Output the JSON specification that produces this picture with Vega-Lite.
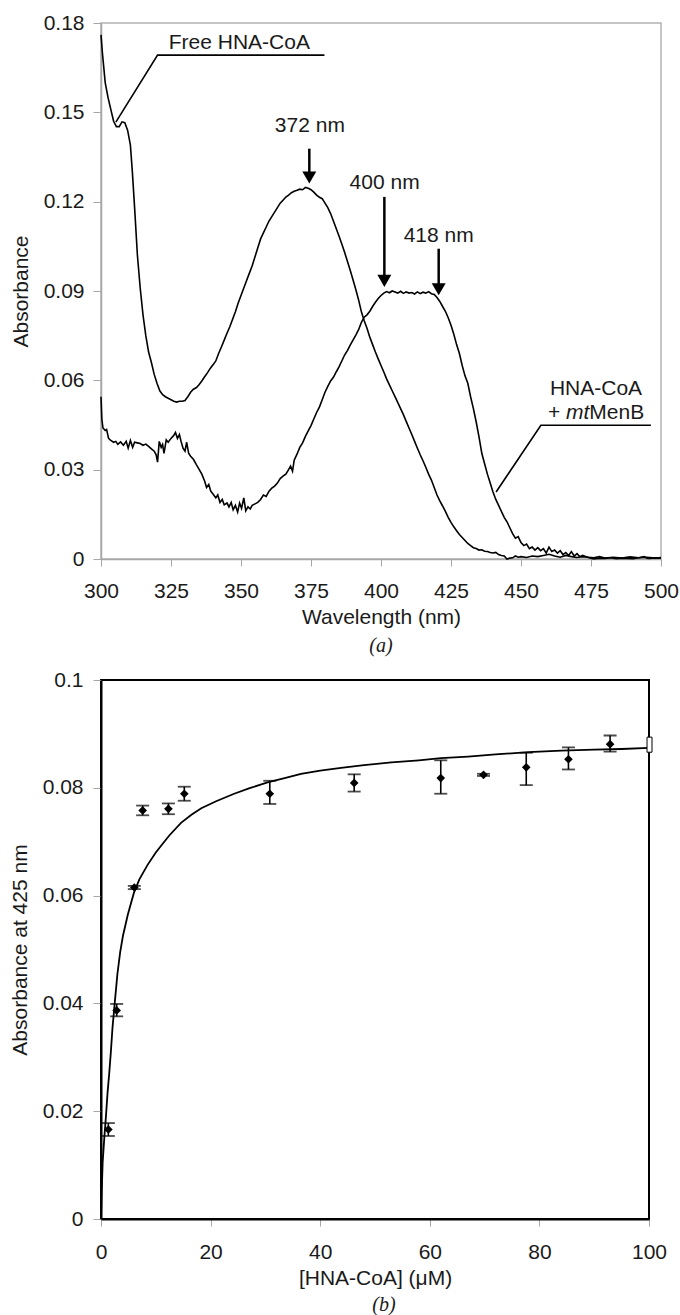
{
  "$schema": "https://vega.github.io/schema/vega-lite/v6.json",
  "background": "white",
  "padding": {"left": 8, "top": 11, "right": 0, "bottom": 0},
  "spacing": 121,
  "bounds": "flush",
  "config": {
    "font": "Liberation Sans",
    "axis": {"labelFont": "Liberation Sans", "titleFont": "Liberation Sans", "labelFontSize": 21, "titleFontSize": 21, "titleFontWeight": "normal", "labelColor": "#1a1a1a", "titleColor": "#1a1a1a", "grid": false, "labelFlush": false},
    "title": {"font": "Liberation Serif", "fontStyle": "italic", "fontSize": 20, "fontWeight": "normal", "color": "#1a1a1a"}
  },
  "datasets": {
    "spectra": [
      {"wl":300,"A":0.176,"s":"free"},{"wl":300.5,"A":0.170,"s":"free"},{"wl":301.5,"A":0.160,"s":"free"},{"wl":302.5,"A":0.155,"s":"free"},{"wl":303.5,"A":0.151,"s":"free"},{"wl":304.5,"A":0.147,"s":"free"},{"wl":305.5,"A":0.1452,"s":"free"},{"wl":306.5,"A":0.1452,"s":"free"},{"wl":307.5,"A":0.1468,"s":"free"},{"wl":308.5,"A":0.1465,"s":"free"},{"wl":309.5,"A":0.144,"s":"free"},{"wl":310.5,"A":0.139,"s":"free"},{"wl":311.2,"A":0.130,"s":"free"},{"wl":312,"A":0.118,"s":"free"},{"wl":313,"A":0.102,"s":"free"},{"wl":314,"A":0.091,"s":"free"},{"wl":315,"A":0.082,"s":"free"},{"wl":316,"A":0.075,"s":"free"},{"wl":317,"A":0.0695,"s":"free"},{"wl":318,"A":0.066,"s":"free"},{"wl":319,"A":0.062,"s":"free"},{"wl":320,"A":0.059,"s":"free"},{"wl":321,"A":0.0565,"s":"free"},{"wl":322,"A":0.0552,"s":"free"},{"wl":323,"A":0.0545,"s":"free"},{"wl":324,"A":0.054,"s":"free"},{"wl":325,"A":0.0535,"s":"free"},{"wl":326,"A":0.053,"s":"free"},{"wl":327,"A":0.0527,"s":"free"},{"wl":328,"A":0.053,"s":"free"},{"wl":329,"A":0.053,"s":"free"},{"wl":330,"A":0.0532,"s":"free"},{"wl":331,"A":0.0545,"s":"free"},{"wl":332,"A":0.056,"s":"free"},{"wl":333,"A":0.057,"s":"free"},{"wl":334,"A":0.0575,"s":"free"},{"wl":335,"A":0.0585,"s":"free"},{"wl":336,"A":0.0598,"s":"free"},{"wl":337,"A":0.0612,"s":"free"},{"wl":338,"A":0.0625,"s":"free"},{"wl":339,"A":0.064,"s":"free"},{"wl":340,"A":0.0652,"s":"free"},{"wl":341,"A":0.0665,"s":"free"},{"wl":342,"A":0.069,"s":"free"},{"wl":343,"A":0.0712,"s":"free"},{"wl":344,"A":0.0735,"s":"free"},{"wl":345,"A":0.0758,"s":"free"},{"wl":346,"A":0.078,"s":"free"},{"wl":347,"A":0.0805,"s":"free"},{"wl":348,"A":0.083,"s":"free"},{"wl":349,"A":0.086,"s":"free"},{"wl":350,"A":0.0885,"s":"free"},{"wl":351,"A":0.091,"s":"free"},{"wl":352,"A":0.0935,"s":"free"},{"wl":353,"A":0.096,"s":"free"},{"wl":354,"A":0.0985,"s":"free"},{"wl":355,"A":0.1015,"s":"free"},{"wl":356,"A":0.1045,"s":"free"},{"wl":357,"A":0.1075,"s":"free"},{"wl":358,"A":0.1095,"s":"free"},{"wl":359,"A":0.1115,"s":"free"},{"wl":360,"A":0.1135,"s":"free"},{"wl":361,"A":0.115,"s":"free"},{"wl":362,"A":0.1165,"s":"free"},{"wl":363,"A":0.118,"s":"free"},{"wl":364,"A":0.1195,"s":"free"},{"wl":365,"A":0.1205,"s":"free"},{"wl":366,"A":0.1215,"s":"free"},{"wl":367,"A":0.1222,"s":"free"},{"wl":368,"A":0.123,"s":"free"},{"wl":369,"A":0.1235,"s":"free"},{"wl":370,"A":0.1238,"s":"free"},{"wl":371,"A":0.1242,"s":"free"},{"wl":372,"A":0.124,"s":"free"},{"wl":373,"A":0.1248,"s":"free"},{"wl":374,"A":0.1245,"s":"free"},{"wl":375,"A":0.124,"s":"free"},{"wl":376,"A":0.1232,"s":"free"},{"wl":377,"A":0.1222,"s":"free"},{"wl":378,"A":0.1215,"s":"free"},{"wl":379,"A":0.121,"s":"free"},{"wl":380,"A":0.1195,"s":"free"},{"wl":381,"A":0.118,"s":"free"},{"wl":382,"A":0.116,"s":"free"},{"wl":383,"A":0.1135,"s":"free"},{"wl":384,"A":0.111,"s":"free"},{"wl":385,"A":0.1085,"s":"free"},{"wl":386,"A":0.1058,"s":"free"},{"wl":387,"A":0.103,"s":"free"},{"wl":388,"A":0.1,"s":"free"},{"wl":389,"A":0.097,"s":"free"},{"wl":390,"A":0.0938,"s":"free"},{"wl":391,"A":0.0905,"s":"free"},{"wl":392,"A":0.087,"s":"free"},{"wl":393,"A":0.083,"s":"free"},{"wl":394,"A":0.08,"s":"free"},{"wl":395,"A":0.0775,"s":"free"},{"wl":396,"A":0.0745,"s":"free"},{"wl":397,"A":0.072,"s":"free"},{"wl":398,"A":0.0695,"s":"free"},{"wl":399,"A":0.0672,"s":"free"},{"wl":400,"A":0.065,"s":"free"},{"wl":401,"A":0.0628,"s":"free"},{"wl":402,"A":0.0605,"s":"free"},{"wl":403,"A":0.0585,"s":"free"},{"wl":404,"A":0.0565,"s":"free"},{"wl":405,"A":0.0545,"s":"free"},{"wl":406,"A":0.0525,"s":"free"},{"wl":407,"A":0.0505,"s":"free"},{"wl":408,"A":0.0485,"s":"free"},{"wl":409,"A":0.0462,"s":"free"},{"wl":410,"A":0.044,"s":"free"},{"wl":411,"A":0.0418,"s":"free"},{"wl":412,"A":0.0395,"s":"free"},{"wl":413,"A":0.0372,"s":"free"},{"wl":414,"A":0.035,"s":"free"},{"wl":415,"A":0.033,"s":"free"},{"wl":416,"A":0.0308,"s":"free"},{"wl":417,"A":0.0285,"s":"free"},{"wl":418,"A":0.0265,"s":"free"},{"wl":419,"A":0.024,"s":"free"},{"wl":420,"A":0.0215,"s":"free"},{"wl":421,"A":0.0195,"s":"free"},{"wl":422,"A":0.0178,"s":"free"},{"wl":423,"A":0.016,"s":"free"},{"wl":424,"A":0.014,"s":"free"},{"wl":425,"A":0.0123,"s":"free"},{"wl":426,"A":0.0108,"s":"free"},{"wl":427,"A":0.0095,"s":"free"},{"wl":428,"A":0.0082,"s":"free"},{"wl":429,"A":0.0072,"s":"free"},{"wl":430,"A":0.0062,"s":"free"},{"wl":431,"A":0.0052,"s":"free"},{"wl":432,"A":0.0045,"s":"free"},{"wl":433,"A":0.0038,"s":"free"},{"wl":434,"A":0.0035,"s":"free"},{"wl":435,"A":0.003,"s":"free"},{"wl":436,"A":0.0031,"s":"free"},{"wl":437,"A":0.0026,"s":"free"},{"wl":438,"A":0.0025,"s":"free"},{"wl":439,"A":0.0022,"s":"free"},{"wl":440,"A":0.002,"s":"free"},{"wl":441,"A":0.0022,"s":"free"},{"wl":442,"A":0.0015,"s":"free"},{"wl":443,"A":0.0012,"s":"free"},{"wl":444,"A":0.001,"s":"free"},{"wl":445,"A":0.0,"s":"free"},{"wl":446,"A":0.0003,"s":"free"},{"wl":447,"A":0.0004,"s":"free"},{"wl":448,"A":0.001,"s":"free"},{"wl":449,"A":0.0006,"s":"free"},{"wl":450,"A":0.0008,"s":"free"},{"wl":452,"A":0.0005,"s":"free"},{"wl":454,"A":0.001,"s":"free"},{"wl":456,"A":0.0008,"s":"free"},{"wl":458,"A":0.0012,"s":"free"},{"wl":460,"A":0.0016,"s":"free"},{"wl":462,"A":0.001,"s":"free"},{"wl":464,"A":0.0006,"s":"free"},{"wl":466,"A":0.0012,"s":"free"},{"wl":468,"A":0.0008,"s":"free"},{"wl":470,"A":0.0005,"s":"free"},{"wl":472,"A":0.0008,"s":"free"},{"wl":474,"A":0.0006,"s":"free"},{"wl":476,"A":0.0004,"s":"free"},{"wl":478,"A":0.0008,"s":"free"},{"wl":480,"A":0.0003,"s":"free"},{"wl":483,"A":0.0006,"s":"free"},{"wl":486,"A":0.0003,"s":"free"},{"wl":489,"A":0.0007,"s":"free"},{"wl":492,"A":0.0004,"s":"free"},{"wl":495,"A":0.0006,"s":"free"},{"wl":498,"A":0.0003,"s":"free"},{"wl":500,"A":0.0005,"s":"free"},
      {"wl":300,"A":0.0545,"s":"bound"},{"wl":300.3,"A":0.047,"s":"bound"},{"wl":300.7,"A":0.044,"s":"bound"},{"wl":301.5,"A":0.0432,"s":"bound"},{"wl":302,"A":0.0435,"s":"bound"},{"wl":302.7,"A":0.0405,"s":"bound"},{"wl":303.5,"A":0.0398,"s":"bound"},{"wl":304.5,"A":0.0392,"s":"bound"},{"wl":305.3,"A":0.0395,"s":"bound"},{"wl":306,"A":0.0385,"s":"bound"},{"wl":307,"A":0.0393,"s":"bound"},{"wl":308,"A":0.0382,"s":"bound"},{"wl":309,"A":0.0395,"s":"bound"},{"wl":309.7,"A":0.0372,"s":"bound"},{"wl":310.5,"A":0.0398,"s":"bound"},{"wl":311.3,"A":0.0375,"s":"bound"},{"wl":312,"A":0.0392,"s":"bound"},{"wl":313,"A":0.039,"s":"bound"},{"wl":314,"A":0.0388,"s":"bound"},{"wl":315,"A":0.0382,"s":"bound"},{"wl":316,"A":0.0386,"s":"bound"},{"wl":317,"A":0.0378,"s":"bound"},{"wl":318,"A":0.037,"s":"bound"},{"wl":319,"A":0.0362,"s":"bound"},{"wl":319.7,"A":0.035,"s":"bound"},{"wl":320.2,"A":0.0325,"s":"bound"},{"wl":320.8,"A":0.0395,"s":"bound"},{"wl":321.5,"A":0.0375,"s":"bound"},{"wl":322,"A":0.0385,"s":"bound"},{"wl":322.5,"A":0.0355,"s":"bound"},{"wl":323.3,"A":0.04,"s":"bound"},{"wl":324,"A":0.0392,"s":"bound"},{"wl":325,"A":0.0405,"s":"bound"},{"wl":326,"A":0.0415,"s":"bound"},{"wl":326.6,"A":0.0425,"s":"bound"},{"wl":327.3,"A":0.0405,"s":"bound"},{"wl":328,"A":0.0418,"s":"bound"},{"wl":328.6,"A":0.0395,"s":"bound"},{"wl":329.3,"A":0.0372,"s":"bound"},{"wl":330,"A":0.0362,"s":"bound"},{"wl":330.6,"A":0.0392,"s":"bound"},{"wl":331.3,"A":0.0355,"s":"bound"},{"wl":332,"A":0.0345,"s":"bound"},{"wl":333,"A":0.0335,"s":"bound"},{"wl":334,"A":0.0318,"s":"bound"},{"wl":335,"A":0.0302,"s":"bound"},{"wl":336,"A":0.0285,"s":"bound"},{"wl":337,"A":0.0262,"s":"bound"},{"wl":337.7,"A":0.024,"s":"bound"},{"wl":338.5,"A":0.025,"s":"bound"},{"wl":339.2,"A":0.0228,"s":"bound"},{"wl":340,"A":0.0218,"s":"bound"},{"wl":341,"A":0.0205,"s":"bound"},{"wl":341.7,"A":0.0215,"s":"bound"},{"wl":342.5,"A":0.019,"s":"bound"},{"wl":343.3,"A":0.02,"s":"bound"},{"wl":344,"A":0.0182,"s":"bound"},{"wl":345,"A":0.0188,"s":"bound"},{"wl":345.7,"A":0.0175,"s":"bound"},{"wl":346.5,"A":0.019,"s":"bound"},{"wl":347.2,"A":0.0165,"s":"bound"},{"wl":348,"A":0.018,"s":"bound"},{"wl":348.8,"A":0.0158,"s":"bound"},{"wl":349.5,"A":0.0188,"s":"bound"},{"wl":350.2,"A":0.017,"s":"bound"},{"wl":351,"A":0.0205,"s":"bound"},{"wl":351.7,"A":0.0162,"s":"bound"},{"wl":352.5,"A":0.0175,"s":"bound"},{"wl":353.3,"A":0.0168,"s":"bound"},{"wl":354,"A":0.018,"s":"bound"},{"wl":355,"A":0.0185,"s":"bound"},{"wl":356,"A":0.019,"s":"bound"},{"wl":357,"A":0.02,"s":"bound"},{"wl":358,"A":0.0215,"s":"bound"},{"wl":359,"A":0.021,"s":"bound"},{"wl":360,"A":0.0228,"s":"bound"},{"wl":361,"A":0.0238,"s":"bound"},{"wl":362,"A":0.0245,"s":"bound"},{"wl":363,"A":0.0255,"s":"bound"},{"wl":364,"A":0.027,"s":"bound"},{"wl":365,"A":0.0278,"s":"bound"},{"wl":366,"A":0.0285,"s":"bound"},{"wl":367,"A":0.03,"s":"bound"},{"wl":367.7,"A":0.0312,"s":"bound"},{"wl":368.4,"A":0.0295,"s":"bound"},{"wl":369,"A":0.0332,"s":"bound"},{"wl":370,"A":0.0352,"s":"bound"},{"wl":371,"A":0.0375,"s":"bound"},{"wl":372,"A":0.039,"s":"bound"},{"wl":373,"A":0.0412,"s":"bound"},{"wl":374,"A":0.043,"s":"bound"},{"wl":375,"A":0.0448,"s":"bound"},{"wl":376,"A":0.047,"s":"bound"},{"wl":377,"A":0.0492,"s":"bound"},{"wl":378,"A":0.051,"s":"bound"},{"wl":379,"A":0.0535,"s":"bound"},{"wl":380,"A":0.056,"s":"bound"},{"wl":381,"A":0.058,"s":"bound"},{"wl":382,"A":0.0598,"s":"bound"},{"wl":383,"A":0.061,"s":"bound"},{"wl":384,"A":0.0628,"s":"bound"},{"wl":385,"A":0.0645,"s":"bound"},{"wl":386,"A":0.0665,"s":"bound"},{"wl":387,"A":0.0685,"s":"bound"},{"wl":388,"A":0.07,"s":"bound"},{"wl":389,"A":0.0718,"s":"bound"},{"wl":390,"A":0.0735,"s":"bound"},{"wl":391,"A":0.0752,"s":"bound"},{"wl":392,"A":0.077,"s":"bound"},{"wl":393,"A":0.0795,"s":"bound"},{"wl":394,"A":0.0812,"s":"bound"},{"wl":395,"A":0.082,"s":"bound"},{"wl":396,"A":0.0832,"s":"bound"},{"wl":397,"A":0.0848,"s":"bound"},{"wl":398,"A":0.0862,"s":"bound"},{"wl":399,"A":0.0875,"s":"bound"},{"wl":400,"A":0.0885,"s":"bound"},{"wl":401,"A":0.0893,"s":"bound"},{"wl":402,"A":0.0898,"s":"bound"},{"wl":403,"A":0.0894,"s":"bound"},{"wl":404,"A":0.09,"s":"bound"},{"wl":405,"A":0.0897,"s":"bound"},{"wl":406,"A":0.0893,"s":"bound"},{"wl":407,"A":0.0899,"s":"bound"},{"wl":408,"A":0.0892,"s":"bound"},{"wl":409,"A":0.0897,"s":"bound"},{"wl":410,"A":0.0893,"s":"bound"},{"wl":411,"A":0.0895,"s":"bound"},{"wl":412,"A":0.089,"s":"bound"},{"wl":413,"A":0.0897,"s":"bound"},{"wl":414,"A":0.0891,"s":"bound"},{"wl":415,"A":0.0896,"s":"bound"},{"wl":416,"A":0.0893,"s":"bound"},{"wl":417,"A":0.0898,"s":"bound"},{"wl":418,"A":0.0891,"s":"bound"},{"wl":419,"A":0.0888,"s":"bound"},{"wl":420,"A":0.0878,"s":"bound"},{"wl":421,"A":0.0865,"s":"bound"},{"wl":422,"A":0.0848,"s":"bound"},{"wl":423,"A":0.0832,"s":"bound"},{"wl":424,"A":0.081,"s":"bound"},{"wl":425,"A":0.0785,"s":"bound"},{"wl":426,"A":0.0755,"s":"bound"},{"wl":427,"A":0.072,"s":"bound"},{"wl":428,"A":0.069,"s":"bound"},{"wl":429,"A":0.065,"s":"bound"},{"wl":430,"A":0.0615,"s":"bound"},{"wl":431,"A":0.059,"s":"bound"},{"wl":432,"A":0.0545,"s":"bound"},{"wl":433,"A":0.0505,"s":"bound"},{"wl":434,"A":0.046,"s":"bound"},{"wl":435,"A":0.041,"s":"bound"},{"wl":436,"A":0.0355,"s":"bound"},{"wl":437,"A":0.032,"s":"bound"},{"wl":438,"A":0.0285,"s":"bound"},{"wl":439,"A":0.0255,"s":"bound"},{"wl":440,"A":0.0225,"s":"bound"},{"wl":441,"A":0.02,"s":"bound"},{"wl":442,"A":0.018,"s":"bound"},{"wl":443,"A":0.016,"s":"bound"},{"wl":444,"A":0.014,"s":"bound"},{"wl":445,"A":0.0125,"s":"bound"},{"wl":446,"A":0.0105,"s":"bound"},{"wl":447,"A":0.0085,"s":"bound"},{"wl":448,"A":0.007,"s":"bound"},{"wl":449,"A":0.0075,"s":"bound"},{"wl":450,"A":0.0055,"s":"bound"},{"wl":451,"A":0.0045,"s":"bound"},{"wl":452,"A":0.005,"s":"bound"},{"wl":453,"A":0.0035,"s":"bound"},{"wl":454,"A":0.004,"s":"bound"},{"wl":455,"A":0.003,"s":"bound"},{"wl":456,"A":0.0038,"s":"bound"},{"wl":457,"A":0.0028,"s":"bound"},{"wl":458,"A":0.0035,"s":"bound"},{"wl":459,"A":0.002,"s":"bound"},{"wl":460,"A":0.004,"s":"bound"},{"wl":461,"A":0.0025,"s":"bound"},{"wl":462,"A":0.003,"s":"bound"},{"wl":463,"A":0.002,"s":"bound"},{"wl":464,"A":0.0028,"s":"bound"},{"wl":465,"A":0.0015,"s":"bound"},{"wl":466,"A":0.0022,"s":"bound"},{"wl":467,"A":0.0012,"s":"bound"},{"wl":468,"A":0.0025,"s":"bound"},{"wl":469,"A":0.001,"s":"bound"},{"wl":470,"A":0.0018,"s":"bound"},{"wl":471,"A":0.0008,"s":"bound"},{"wl":472,"A":0.0012,"s":"bound"},{"wl":474,"A":0.0005,"s":"bound"},{"wl":476,"A":0.0,"s":"bound"},{"wl":478,"A":0.0003,"s":"bound"},{"wl":480,"A":0.0002,"s":"bound"},{"wl":482,"A":0.0004,"s":"bound"},{"wl":484,"A":0.0001,"s":"bound"},{"wl":486,"A":0.0003,"s":"bound"},{"wl":488,"A":0.0002,"s":"bound"},{"wl":490,"A":0.0001,"s":"bound"},{"wl":492,"A":0.0004,"s":"bound"},{"wl":494,"A":0.0008,"s":"bound"},{"wl":495,"A":0.0003,"s":"bound"},{"wl":496,"A":0.0002,"s":"bound"},{"wl":498,"A":0.0004,"s":"bound"},{"wl":500,"A":0.0003,"s":"bound"}
    ],
    "leaders": [
      {"wl":305.3,"A":0.1467,"g":"free"},{"wl":320.2,"A":0.1692,"g":"free"},{"wl":379.8,"A":0.1692,"g":"free"},
      {"wl":441.1,"A":0.0225,"g":"bound"},{"wl":457.1,"A":0.0449,"g":"bound"},{"wl":496.4,"A":0.0449,"g":"bound"}
    ],
    "arrows": [
      {"wl":374.4,"A":0.1378,"A2":0.1281},
      {"wl":401.2,"A":0.1216,"A2":0.0934},
      {"wl":420.6,"A":0.1042,"A2":0.0906}
    ],
    "labels": [
      {"wl":349.4,"A":0.1714,"t":"Free HNA-CoA"},
      {"wl":374.6,"A":0.1434,"t":"372 nm"},
      {"wl":401.3,"A":0.1244,"t":"400 nm"},
      {"wl":420.6,"A":0.1065,"t":"418 nm"},
      {"wl":476.8,"A":0.055,"t":"HNA-CoA"}
    ],
    "fit": [
      {"c":0,"A":0},{"c":0.1,"A":0.004},{"c":0.3,"A":0.0105},{"c":0.6,"A":0.015},{"c":0.9,"A":0.019},{"c":1.2,"A":0.0235},{"c":1.5,"A":0.027},{"c":1.8,"A":0.031},{"c":2.1,"A":0.0355},{"c":2.5,"A":0.04},{"c":3.0,"A":0.0455},{"c":3.5,"A":0.0495},{"c":4.0,"A":0.0525},{"c":4.9,"A":0.0565},{"c":6.0,"A":0.0605},{"c":7.0,"A":0.063},{"c":8.5,"A":0.0657},{"c":10,"A":0.068},{"c":11,"A":0.0693},{"c":12.5,"A":0.0712},{"c":14.6,"A":0.0735},{"c":16.5,"A":0.075},{"c":18.3,"A":0.0762},{"c":21,"A":0.0775},{"c":24.3,"A":0.0789},{"c":27,"A":0.0799},{"c":30.4,"A":0.081},{"c":33.5,"A":0.0818},{"c":36.5,"A":0.0826},{"c":40,"A":0.0832},{"c":43.8,"A":0.0837},{"c":48,"A":0.0842},{"c":53,"A":0.0847},{"c":58,"A":0.0851},{"c":62,"A":0.0855},{"c":67,"A":0.0858},{"c":72,"A":0.0862},{"c":78,"A":0.0866},{"c":84,"A":0.0869},{"c":90,"A":0.0871},{"c":95,"A":0.0872},{"c":100,"A":0.0874}
    ],
    "pts": [
      {"c":1.34,"A":0.0166,"lo":0.0154,"hi":0.0178},
      {"c":2.86,"A":0.0387,"lo":0.0376,"hi":0.0399},
      {"c":6.08,"A":0.0615,"lo":0.0612,"hi":0.0618},
      {"c":7.6,"A":0.0758,"lo":0.0749,"hi":0.0767},
      {"c":12.3,"A":0.0761,"lo":0.0751,"hi":0.0771},
      {"c":15.2,"A":0.0789,"lo":0.0776,"hi":0.0802},
      {"c":30.8,"A":0.0789,"lo":0.077,"hi":0.0813},
      {"c":46.2,"A":0.0809,"lo":0.0793,"hi":0.0825},
      {"c":62.0,"A":0.0818,"lo":0.0789,"hi":0.0851},
      {"c":69.8,"A":0.0824,"lo":0.0822,"hi":0.0826},
      {"c":77.6,"A":0.0838,"lo":0.0805,"hi":0.0865},
      {"c":85.3,"A":0.0853,"lo":0.0834,"hi":0.0875},
      {"c":92.9,"A":0.0881,"lo":0.0867,"hi":0.0897}
    ]
  },
  "vconcat": [
    {
      "width": 560,
      "height": 536,
      "view": {"stroke": "#b3b3b3", "strokeWidth": 1.5},
      "title": {"text": "(a)", "orient": "bottom", "anchor": "middle", "offset": 9},
      "layer": [
        {
          "data": {"name": "spectra"},
          "mark": {"type": "line", "color": "black", "strokeWidth": 1.6},
          "encoding": {
            "x": {"field": "wl", "type": "quantitative", "scale": {"domain": [300, 500], "nice": false, "zero": false},
                  "axis": {"title": "Wavelength (nm)", "values": [300,325,350,375,400,425,450,475,500], "domainColor": "#a6a6a6", "domainWidth": 1.5, "tickColor": "#a6a6a6", "tickSize": 7, "labelPadding": 14, "titlePadding": 5}},
            "y": {"field": "A", "type": "quantitative", "scale": {"domain": [0, 0.18], "nice": false},
                  "axis": {"title": "Absorbance", "values": [0,0.03,0.06,0.09,0.12,0.15,0.18], "format": ".2~f", "domainColor": "#a6a6a6", "domainWidth": 1.5, "tickColor": "#a6a6a6", "tickSize": 8, "labelPadding": 9, "titlePadding": 12}},
            "detail": {"field": "s", "type": "nominal"}
          }
        },
        {
          "data": {"name": "leaders"},
          "mark": {"type": "line", "color": "black", "strokeWidth": 1.6},
          "encoding": {
            "x": {"field": "wl", "type": "quantitative"},
            "y": {"field": "A", "type": "quantitative"},
            "detail": {"field": "g", "type": "nominal"}
          }
        },
        {
          "data": {"name": "arrows"},
          "mark": {"type": "rule", "color": "black", "strokeWidth": 2.5},
          "encoding": {
            "x": {"field": "wl", "type": "quantitative"},
            "y": {"field": "A", "type": "quantitative"},
            "y2": {"field": "A2"}
          }
        },
        {
          "data": {"name": "arrows"},
          "mark": {"type": "point", "shape": "triangle-down", "filled": true, "color": "black", "opacity": 1, "size": 196},
          "encoding": {
            "x": {"field": "wl", "type": "quantitative"},
            "y": {"field": "A2", "type": "quantitative", "title": "Absorbance"}
          }
        },
        {
          "data": {"name": "labels"},
          "mark": {"type": "text", "font": "Liberation Sans", "fontSize": 21, "align": "center", "baseline": "alphabetic", "color": "#1a1a1a"},
          "encoding": {
            "x": {"field": "wl", "type": "quantitative"},
            "y": {"field": "A", "type": "quantitative"},
            "text": {"field": "t", "type": "nominal"}
          }
        },
        {
          "data": {"values": [{"wl": 474.4, "A": 0.0471, "t": "MenB"}]},
          "mark": {"type": "text", "font": "Liberation Sans", "fontSize": 21, "align": "left", "baseline": "alphabetic", "color": "#1a1a1a"},
          "encoding": {
            "x": {"field": "wl", "type": "quantitative"},
            "y": {"field": "A", "type": "quantitative"},
            "text": {"field": "t", "type": "nominal"}
          }
        },
        {
          "data": {"values": [{"wl": 474.4, "A": 0.0471, "t": "mt"}]},
          "mark": {"type": "text", "font": "Liberation Sans", "fontSize": 21, "fontStyle": "italic", "align": "right", "baseline": "alphabetic", "color": "#1a1a1a"},
          "encoding": {
            "x": {"field": "wl", "type": "quantitative"},
            "y": {"field": "A", "type": "quantitative"},
            "text": {"field": "t", "type": "nominal"}
          }
        },
        {
          "data": {"values": [{"wl": 474.4, "A": 0.0471, "t": "+"}]},
          "mark": {"type": "text", "font": "Liberation Sans", "fontSize": 21, "align": "left", "baseline": "alphabetic", "dx": -41.4, "color": "#1a1a1a"},
          "encoding": {
            "x": {"field": "wl", "type": "quantitative"},
            "y": {"field": "A", "type": "quantitative"},
            "text": {"field": "t", "type": "nominal"}
          }
        }
      ]
    },
    {
      "width": 548,
      "height": 539,
      "view": {"stroke": "black", "strokeWidth": 2},
      "title": {"text": "(b)", "orient": "bottom", "anchor": "middle", "offset": 7, "dx": 9},
      "layer": [
        {
          "data": {"name": "fit"},
          "mark": {"type": "line", "color": "black", "strokeWidth": 1.8},
          "encoding": {
            "x": {"field": "c", "type": "quantitative", "scale": {"domain": [0, 100], "nice": false},
                  "axis": {"title": "[HNA-CoA] (μM)", "values": [0,20,40,60,80,100], "domainColor": "black", "domainWidth": 2, "tickColor": "#a6a6a6", "tickSize": 7, "labelPadding": 15, "titlePadding": 5}},
            "y": {"field": "A", "type": "quantitative", "scale": {"domain": [0, 0.1], "nice": false},
                  "axis": {"title": "Absorbance at 425 nm", "values": [0,0.02,0.04,0.06,0.08,0.1], "format": ".2~f", "domainColor": "black", "domainWidth": 2, "tickColor": "#a6a6a6", "tickSize": 8, "labelPadding": 10, "titlePadding": 12}}
          }
        },
        {
          "data": {"name": "pts"},
          "mark": {"type": "errorbar", "color": "black", "thickness": 1.6, "ticks": {"size": 13, "thickness": 1.8, "color": "black"}},
          "encoding": {
            "x": {"field": "c", "type": "quantitative", "title": "[HNA-CoA] (μM)"},
            "y": {"field": "lo", "type": "quantitative", "title": "Absorbance at 425 nm"},
            "y2": {"field": "hi"}
          }
        },
        {
          "data": {"name": "pts"},
          "mark": {"type": "point", "shape": "diamond", "filled": true, "color": "black", "opacity": 1, "size": 75},
          "encoding": {
            "x": {"field": "c", "type": "quantitative", "title": "[HNA-CoA] (μM)"},
            "y": {"field": "A", "type": "quantitative", "title": "Absorbance at 425 nm"}
          }
        },
        {
          "data": {"values": [{"c": 99.64, "c2": 100.55, "A": 0.0866, "A2": 0.0894}]},
          "mark": {"type": "rect", "fill": "white", "stroke": "black", "strokeWidth": 1},
          "encoding": {
            "x": {"field": "c", "type": "quantitative", "title": "[HNA-CoA] (μM)"},
            "x2": {"field": "c2"},
            "y": {"field": "A", "type": "quantitative", "title": "Absorbance at 425 nm"},
            "y2": {"field": "A2"}
          }
        }
      ]
    }
  ]
}
